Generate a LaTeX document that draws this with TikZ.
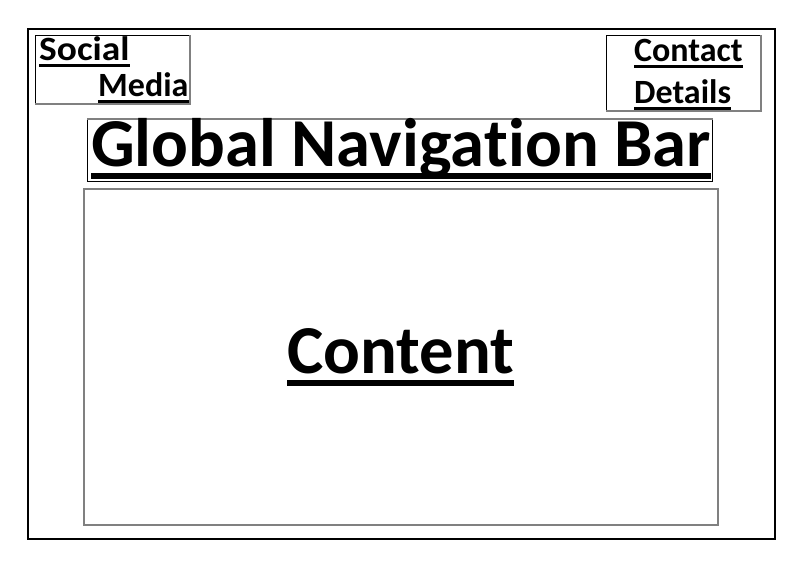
\documentclass[tikz,border=0pt]{standalone}
\usepackage{fontspec}
\setmainfont{Carlito}[Ligatures={NoCommon,NoRare,NoContextual}]
\begin{document}
\begin{tikzpicture}[x=1pt,y=-1pt,
  small/.style={font=\fontsize{34}{40}\selectfont\bfseries, inner sep=0pt, anchor=base west},
  big/.style={font=\fontsize{68.6}{80}\selectfont\bfseries, inner sep=0pt, anchor=base west},
  frame/.style={draw=black, line width=2pt, anchor=north west, inner sep=0pt},
  box/.style={draw=black, line width=1pt, anchor=north west, inner sep=0pt},
  graybox/.style={draw=gray, line width=1.5pt, anchor=north west, inner sep=0pt},
  shadeedge/.style={draw=gray, line width=2pt},
  ulsmall/.style={line width=3pt},
  ulbig/.style={line width=5.5pt}]
\useasboundingbox (0,0) rectangle (800,565);
\node[frame, minimum width=747pt, minimum height=510pt] (outer) at (27,28) {};
\node[box, minimum width=154pt, minimum height=68pt] (socbox) at (35,35) {};
\draw[shadeedge] (socbox.north east) -- (socbox.south east) -- (socbox.south west);
\node[box, minimum width=154pt, minimum height=75pt] (conbox) at (606,35) {};
\draw[shadeedge] (conbox.north east) -- (conbox.south east) -- (conbox.south west);
\node[box, minimum width=625pt, minimum height=62pt] (gnbbox) at (87,119) {};
\draw[shadeedge] (gnbbox.north west) -- (gnbbox.north east);
\node[graybox, minimum width=634pt, minimum height=336pt] (contbox) at (83,188) {};

\node[small] (social) at (39,60) {\scalebox{1.1}[1]{Social}};
\node[small] (media) at (98,96) {Media};
\node[small] (contact) at (634,61) {Contact};
\node[small] (details) at (634,103) {Details};
\node[big] (gnb) at (91,166) {Global Naviga\kern0pt tion Bar};
\node[big] (content) at (287,373) {Content};

\foreach \n in {social,media,contact,details}{
  \draw[ulsmall] ([yshift=-5pt]\n.base west) -- ([yshift=-5pt]\n.base east);
}
\foreach \n in {gnb,content}{
  \draw[ulbig] ([yshift=-10pt]\n.base west) -- ([yshift=-10pt]\n.base east);
}
\end{tikzpicture}
\end{document}
